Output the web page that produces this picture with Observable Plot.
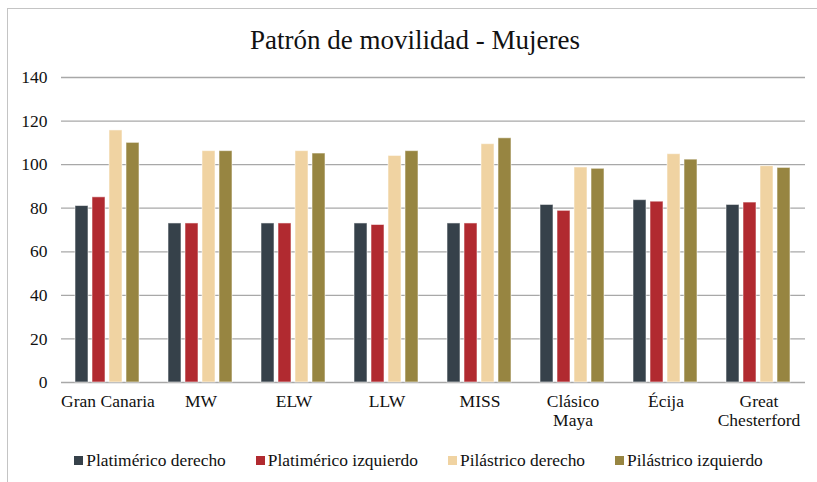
<!DOCTYPE html>
<html>
<head>
<meta charset="utf-8">
<script src="https://cdn.jsdelivr.net/npm/d3@7"></script>
<script src="https://cdn.jsdelivr.net/npm/@observablehq/plot@0.6"></script>
<style>
  body { margin: 0; background: #fff; width: 817px; height: 482px; overflow: hidden; position: relative; font-family: "Liberation Serif", "Times New Roman", Times, serif; }
  #frame { position: absolute; left: 7px; top: 8px; width: 840px; height: 500px; border: 1.5px solid #c4c4c4; box-sizing: border-box; }
  #title { position: absolute; left: 0; top: 24px; width: 830px; text-align: center; font-size: 27px; line-height: 32px; color: #111; }
  #chart { position: absolute; left: 0; top: 0; }
  #legend { position: absolute; left: 0; top: 449px; width: 837px; display: flex; justify-content: center; gap: 30px; font-size: 17.4px; line-height: 22px; color: #111; }
  #legend span.item { display: flex; align-items: center; white-space: nowrap; }
  #legend span.sw { display: inline-block; width: 9px; height: 9px; margin-right: 3px; }
</style>
</head>
<body>
<div id="frame"></div>
<div id="chart"></div>
<div id="title">Patrón de movilidad - Mujeres</div>
<div id="legend"></div>
<script>
const categories = ["Gran Canaria", "MW", "ELW", "LLW", "MISS", "Clásico Maya", "Écija", "Great Chesterford"];
const tickLabels = ["Gran Canaria", "MW", "ELW", "LLW", "MISS", "Clásico\nMaya", "Écija", "Great\nChesterford"];
const seriesNames = ["Platimérico derecho", "Platimérico izquierdo", "Pilástrico derecho", "Pilástrico izquierdo"];
const seriesColors = ["#36414a", "#b12a30", "#f0d3a2", "#978541"];
const platimericoDerecho   = [81, 73, 73, 73, 73, 81.5, 83.7, 81.5];
const platimericoIzquierdo = [85, 73, 73, 72.3, 73, 78.8, 83, 82.6];
const pilastricoDerecho    = [115.7, 106.2, 106.2, 104, 109.4, 98.7, 104.8, 99.3];
const pilastricoIzquierdo  = [110, 106.2, 105.1, 106.2, 112.1, 98.1, 102.3, 98.5];
const yTicks = [0, 20, 40, 60, 80, 100, 120, 140];

const seriesValues = [platimericoDerecho, platimericoIzquierdo, pilastricoDerecho, pilastricoIzquierdo];
const data = [];
categories.forEach((c, i) => {
  seriesNames.forEach((s, j) => data.push({category: c, series: s, value: seriesValues[j][i]}));
});
const labelOf = new Map(categories.map((c, i) => [c, tickLabels[i]]));
const serif = "\"Liberation Serif\", \"Times New Roman\", Times, serif";

const chart = Plot.plot({
  width: 817,
  height: 440,
  marginTop: 77,
  marginBottom: 58,
  marginLeft: 60,
  marginRight: 12,
  style: {fontFamily: serif, fontSize: "17.5px", color: "#111", background: "transparent"},
  fx: {domain: categories, padding: 0, label: null},
  x: {domain: seriesNames, paddingInner: 0.235, paddingOuter: 0.85, axis: null},
  y: {domain: [0, 140], label: null},
  color: {domain: seriesNames, range: seriesColors},
  marks: [
    Plot.ruleY(yTicks, {stroke: "#a8a8a8", strokeWidth: 1.3}),
    Plot.barY(data, {fx: "category", x: "series", y: "value", fill: "series", stroke: "#ffffff", strokeOpacity: 0.55, strokeWidth: 1}),
    Plot.axisY(yTicks, {tickSize: 0, tickPadding: 14, fontSize: 17.5, fontFamily: serif, label: null}),
    Plot.axisFx({anchor: "bottom", tickSize: 0, tickPadding: 11, fontSize: 17.5, fontFamily: serif, label: null, lineHeight: 1.1, tickFormat: d => labelOf.get(d)})
  ]
});
document.getElementById("chart").appendChild(chart);

const legend = document.getElementById("legend");
seriesNames.forEach((s, i) => {
  const item = document.createElement("span");
  item.className = "item";
  const sw = document.createElement("span");
  sw.className = "sw";
  sw.style.background = seriesColors[i];
  item.appendChild(sw);
  item.appendChild(document.createTextNode(s));
  legend.appendChild(item);
});
</script>
</body>
</html>
